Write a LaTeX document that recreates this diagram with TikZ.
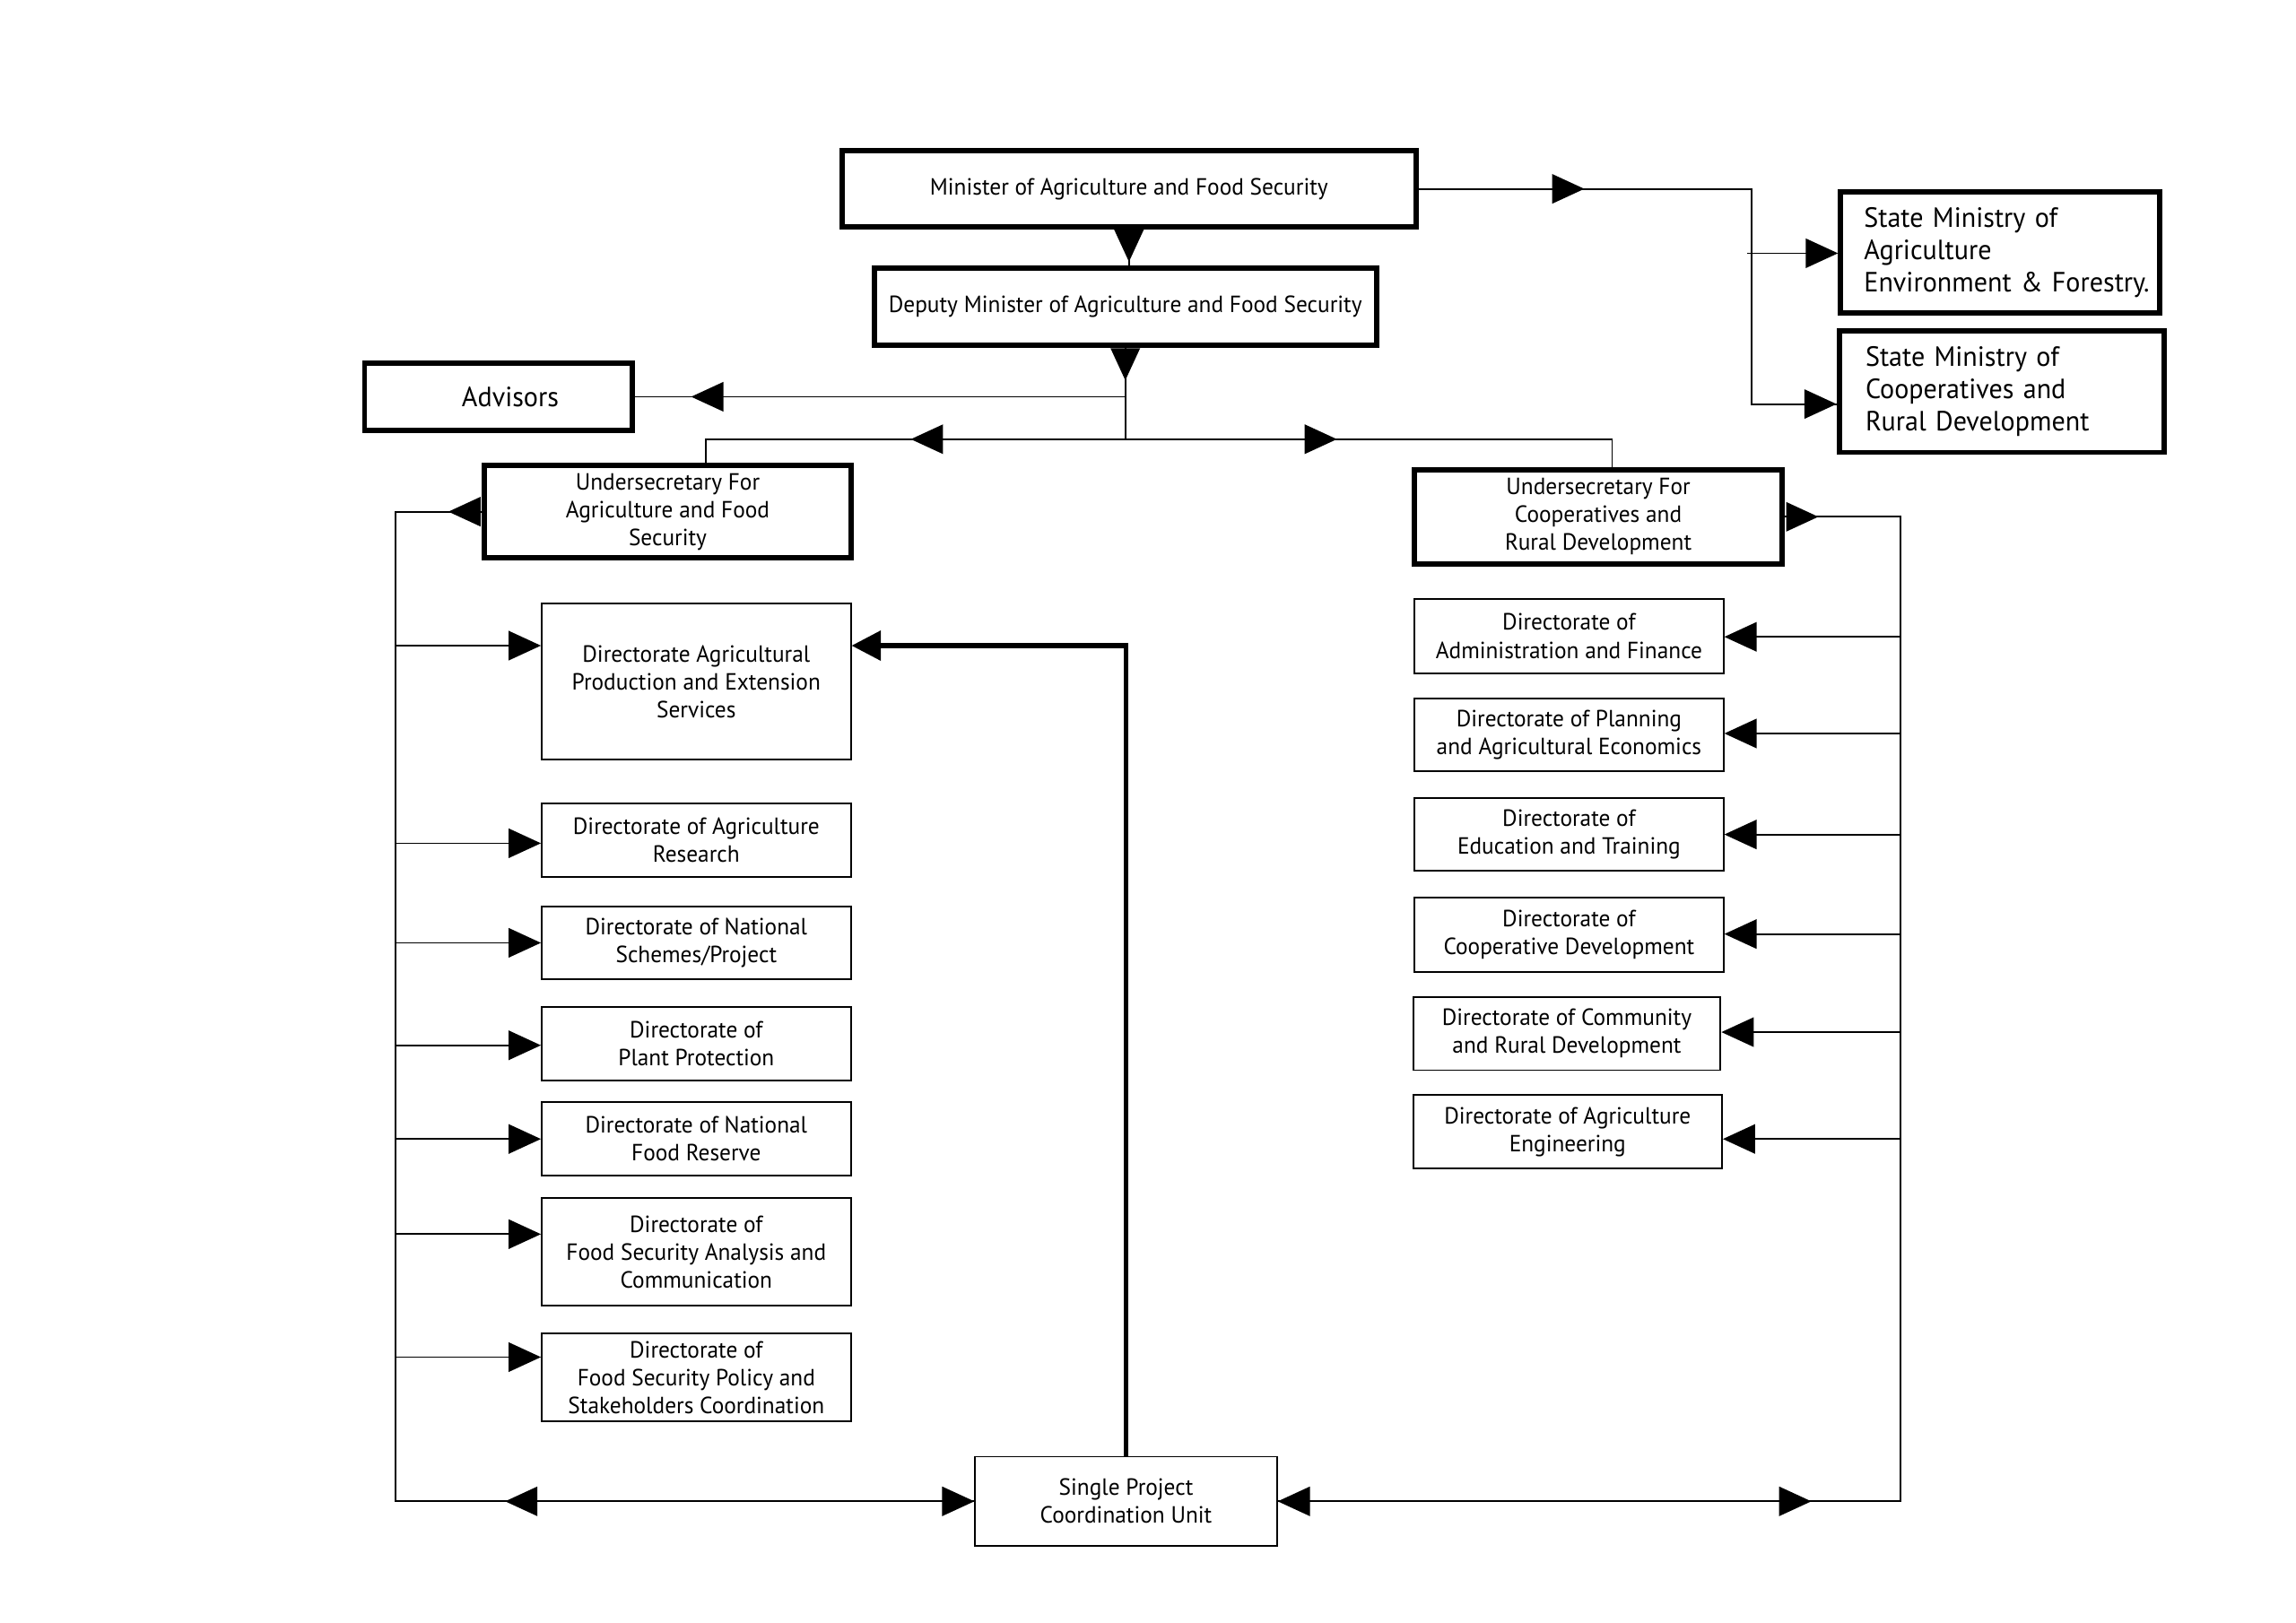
\documentclass[tikz,border=0pt]{standalone}
\usepackage{fontspec}
\setmainfont{PT Sans}[FakeStretch=0.97]
\usetikzlibrary{arrows.meta}
\begin{document}
\begin{tikzpicture}[x=0.5pt,y=-0.5pt,
  basebox/.style={draw, rectangle, inner sep=0pt, align=center, font=\fontsize{8}{9.5}\selectfont},
  heavybox/.style={basebox, line width=1.8pt},
  thinbox/.style={basebox, line width=0.6pt},
  bigtext/.style={font=\fontsize{9.5}{11}\selectfont},
  wire/.style={line width=0.55pt},
  head/.style={wire, -{Triangle[length=11pt,width=10pt]}},
  heavywire/.style={line width=1.6pt},
  lcol/.style={thinbox, minimum width=105.5pt},
  rcol/.style={thinbox, minimum width=105.5pt}
]
\fill[white] (0,0) rectangle (1568,1108.6);
\useasboundingbox (0,0) rectangle (1568,1108.6);

% top boxes
\node[heavybox, minimum width=196pt, minimum height=26pt] (min) at (771,129) {Minister of Agriculture and Food Security};
\node[heavybox, minimum width=171.5pt, minimum height=26.5pt] (dep) at (768.5,209.5) {Deputy Minister of Agriculture and Food Security};
\node[heavybox, bigtext, minimum width=91.5pt, minimum height=23pt] (adv) at (340.5,271) {\hspace*{8pt}Advisors};
\node[heavybox, minimum width=125pt, minimum height=31.5pt] (usa) at (456,349.5) {Undersecretary For\\Agriculture and Food\\Security};
\node[heavybox, minimum width=125.5pt, minimum height=32pt] (usc) at (1091.5,353) {Undersecretary For\\Cooperatives and\\Rural Development};
\node[heavybox, bigtext, align=left, text width=93pt, inner xsep=8pt, minimum height=41.5pt] (sm1) at (1366,172.5) {State~Ministry~of\\Agriculture\\Environment~\&~Forestry.};
\node[heavybox, bigtext, align=left, text width=93pt, inner xsep=9pt, minimum height=41.5pt] (sm2) at (1367,267.5) {State~Ministry~of\\Cooperatives~and\\Rural~Development};

% left column
\node[lcol, minimum height=53.5pt] (l1) at (475.5,465.5) {Directorate Agricultural\\Production and Extension\\Services};
\node[lcol, minimum height=25pt] (l2) at (475.5,574) {Directorate of Agriculture\\Research};
\node[lcol, minimum height=25pt] (l3) at (475.5,644) {Directorate of National\\Schemes/Project};
\node[lcol, minimum height=25pt] (l4) at (475.5,713) {Directorate of\\Plant Protection};
\node[lcol, minimum height=25pt] (l5) at (475.5,778) {Directorate of National\\Food Reserve};
\node[lcol, minimum height=37pt] (l6) at (475.5,855) {Directorate of\\Food Security Analysis and\\Communication};
\node[lcol, minimum height=30pt] (l7) at (475.5,941) {Directorate of\\Food Security Policy and\\Stakeholders Coordination};

% right column
\node[rcol, minimum height=25.5pt] (r1) at (1071.5,434.5) {Directorate of\\Administration and Finance};
\node[rcol, minimum height=25pt] (r2) at (1071.5,502) {Directorate of Planning\\and Agricultural Economics};
\node[rcol, minimum height=25pt] (r3) at (1071.5,570) {Directorate of\\Education and Training};
\node[rcol, minimum height=25.5pt] (r4) at (1071.5,638.5) {Directorate of\\Cooperative Development};
\node[rcol, minimum width=105pt, minimum height=25pt] (r5) at (1070,706) {Directorate of Community\\and Rural Development};
\node[rcol, minimum height=25pt] (r6) at (1070.5,773) {Directorate of Agriculture\\Engineering};

% single project unit
\node[thinbox, minimum width=103pt, minimum height=30.5pt] (spcu) at (769,1025.5) {Single Project\\Coordination Unit};

% coordinates
\coordinate (hub) at (769,300);
\coordinate (ua) at (482,300);
\coordinate (uc) at (1101,300);
\coordinate (sb) at (1196,129);
\coordinate (lb) at (270,349.5);
\coordinate (lbot) at (270,1025.5);
\coordinate (rb) at (1298,353);
\coordinate (rbot) at (1298,1025.5);

% minister -> deputy
\draw[wire] (min.south) -- (min.south |- dep.north);
\draw[head] (min.south) -- ++(0,22);
% deputy -> hub
\draw[wire] (dep.south) -- (dep.south |- hub);
\draw[head] (dep.south) -- ++(0,22);
% advisors
\draw[wire] (dep.south |- adv.east) -- (adv.east);
\draw[head] (dep.south |- adv.east) -- (472,271);
% undersecretaries
\draw[wire] (usa.north -| ua) -- (ua) -- (uc) -- (usc.north -| uc);
\draw[head] (hub) -- (622,300);
\draw[head] (hub) -- (913,300);
% state ministries
\draw[wire] (min.east) -- (sb) -- (1196,276) -- (sm2.west |- 0,276);
\draw[head] (min.east) -- (1082,129);
\draw[head] (1193,173) -- (sm1.west |- 0,173);
\draw[head] (1196,276) -- (sm2.west |- 0,276);

% left bus
\draw[wire] (usa.west) -- (lb) -- (lbot) -- (spcu.west);
\draw[head] (usa.west) -- ++(-23,0);
\draw[head] (270,441) -- (l1.west |- 0,441);
\draw[head] (270,576) -- (l2.west |- 0,576);
\draw[head] (270,644) -- (l3.west |- 0,644);
\draw[head] (270,714) -- (l4.west |- 0,714);
\draw[head] (270,778) -- (l5.west |- 0,778);
\draw[head] (270,843) -- (l6.west |- 0,843);
\draw[head] (270,927) -- (l7.west |- 0,927);

% right bus
\draw[wire] (usc.east) -- (rb) -- (rbot) -- (spcu.east);
\draw[head] (usc.east) -- ++(23,0);
\draw[head] (1298,435) -- (r1.east |- 0,435);
\draw[head] (1298,501) -- (r2.east |- 0,501);
\draw[head] (1298,570) -- (r3.east |- 0,570);
\draw[head] (1298,638) -- (r4.east |- 0,638);
\draw[head] (1298,705) -- (r5.east |- 0,705);
\draw[head] (1298,778) -- (r6.east |- 0,778);

% bottom line
\draw[head] (lbot) -- (spcu.west);
\draw[head] (spcu.west) -- (345,1025.5);
\draw[head] (rbot) -- (spcu.east);
\draw[head] (spcu.east) -- (1237,1025.5);

% thick connector from SPCU to first directorate
\draw[heavywire, -{Triangle[length=10pt,width=10pt]}] (spcu.north) -- (spcu.north |- 0,441) -- (l1.east |- 0,441);
\end{tikzpicture}
\end{document}
